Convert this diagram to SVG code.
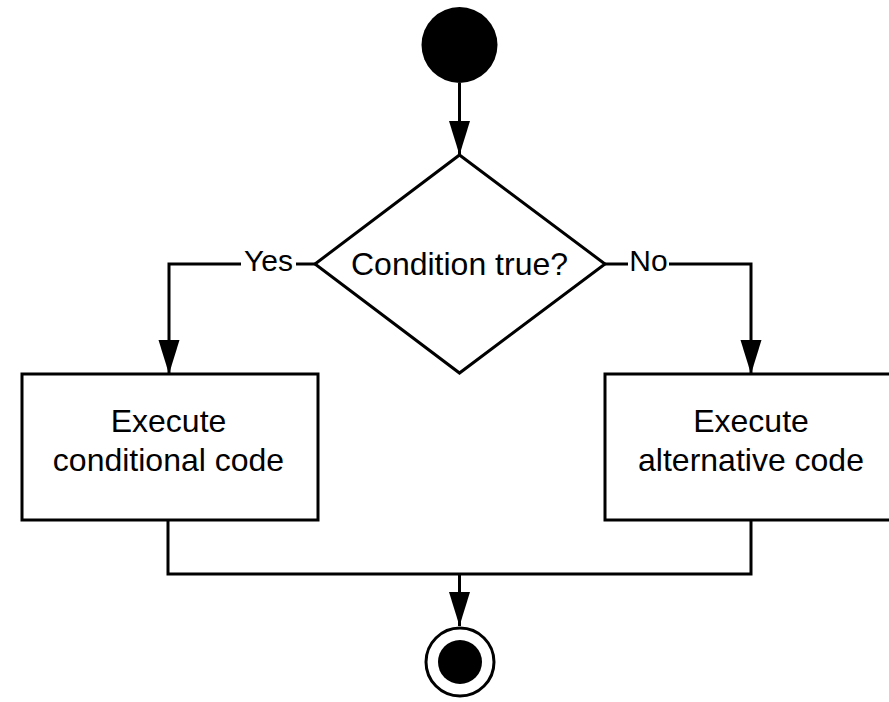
<svg xmlns="http://www.w3.org/2000/svg" width="889" height="702" viewBox="0 0 889 702">
  <style>
    .shape { fill: #ffffff; stroke: #000000; stroke-width: 3; }
    .edge { fill: none; stroke: #000000; stroke-width: 3; }
    .label { font-family: "Liberation Sans", Arial, sans-serif; font-size: 32px; fill: #000000; text-anchor: middle; }
    .elabel { font-family: "Liberation Sans", Arial, sans-serif; font-size: 30px; fill: #000000; text-anchor: middle; }
  </style>
  <defs>
    <marker id="arr" viewBox="0 0 34 22" refX="34" refY="11" markerWidth="34" markerHeight="22" markerUnits="userSpaceOnUse" orient="auto">
      <path d="M0,0.5 L34,11 L0,21.5 Z" fill="#000000"/>
    </marker>
  </defs>
  <rect width="889" height="702" fill="#ffffff"/>

  <g id="connectors">
    <path class="edge" d="M459.5,83 L459.5,155" marker-end="url(#arr)"/>
    <path class="edge" d="M315,264 L169,264 L169,374" marker-end="url(#arr)"/>
    <path class="edge" d="M605,264 L751,264 L751,374" marker-end="url(#arr)"/>
    <path class="edge" d="M168,520 L168,574 L751,574 L751,520"/>
    <path class="edge" d="M459.5,574 L459.5,626" marker-end="url(#arr)"/>
    <g id="label-yes">
      <rect x="241" y="248" width="55" height="30" fill="#ffffff"/>
      <text class="elabel" x="268.5" y="271">Yes</text>
    </g>
    <g id="label-no">
      <rect x="628" y="248" width="41" height="30" fill="#ffffff"/>
      <text class="elabel" x="648.5" y="271">No</text>
    </g>
  </g>

  <g id="start">
    <circle cx="459.5" cy="45" r="38" fill="#000000"/>
  </g>

  <g id="decision">
    <polygon class="shape" points="459.5,155 605,264 459.5,373 315,264"/>
    <text class="label" x="459.5" y="275">Condition true?</text>
  </g>

  <g id="conditional">
    <rect class="shape" x="22" y="374" width="296" height="146"/>
    <text class="label" x="168.5" y="432">Execute</text>
    <text class="label" x="168.5" y="471">conditional code</text>
  </g>

  <g id="alternative">
    <rect class="shape" x="605" y="374" width="292" height="146"/>
    <text class="label" x="751" y="432">Execute</text>
    <text class="label" x="751" y="471">alternative code</text>
  </g>

  <g id="end">
    <circle cx="460" cy="662" r="34" fill="#ffffff" stroke="#000000" stroke-width="3"/>
    <circle cx="460" cy="662" r="22" fill="#000000"/>
  </g>
</svg>
